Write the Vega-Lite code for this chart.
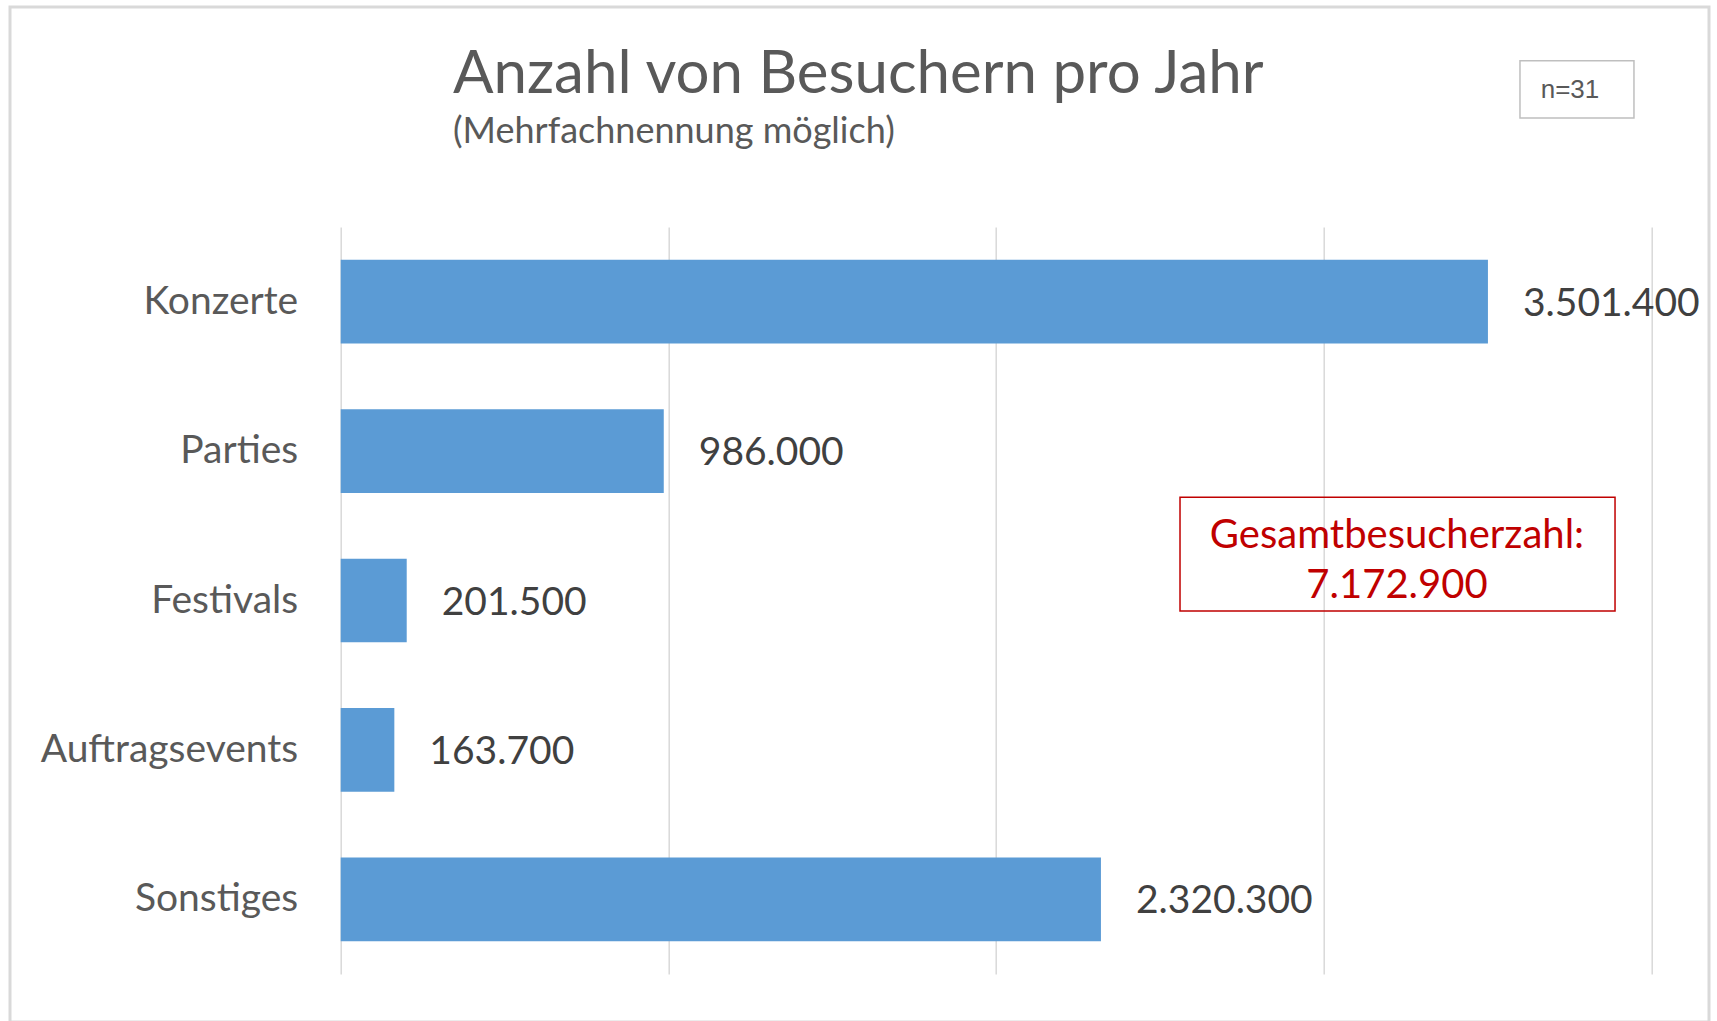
{
  "$schema": "https://vega.github.io/schema/vega-lite/v6.json",
  "width": 1310.6,
  "height": 747,
  "autosize": {"type": "none"},
  "padding": {"left": 340.7, "top": 227, "right": 65.7, "bottom": 47},
  "background": "white",
  "config": {
    "view": {"stroke": null},
    "locale": {"number": {"decimal": ",", "thousands": ".", "grouping": [3], "currency": ["", " €"]}}
  },
  "resolve": {"scale": {"y": "independent"}, "axis": {"y": "independent"}},
  "layer": [
    {
      "layer": [
        {
          "data": {"values": [{}]},
          "mark": {"type": "rect", "fillOpacity": 0, "stroke": "#D9D9D9", "strokeWidth": 3},
          "encoding": {
            "x": {"datum": -1009300, "type": "quantitative", "scale": {"domain": [0, 4000000], "nice": false, "zero": true}},
            "x2": {"datum": 4176100},
            "y": {"datum": -1.4726, "type": "quantitative", "scale": {"domain": [0, 5], "reverse": true, "nice": false, "zero": false}, "axis": null},
            "y2": {"datum": 5.3213}
          }
        },
        {
          "data": {"values": [{}]},
          "mark": {"type": "rect", "fillOpacity": 0, "stroke": "#BFBFBF", "strokeWidth": 1.5},
          "encoding": {
            "x": {"datum": 3599200, "type": "quantitative"},
            "x2": {"datum": 3947100},
            "y": {"datum": -1.1131, "type": "quantitative"},
            "y2": {"datum": -0.7296}
          }
        },
        {
          "data": {"values": [{}]},
          "mark": {"type": "text", "text": "n=31", "font": "Liberation Sans", "fontSize": 26, "color": "#595959", "align": "center", "baseline": "alphabetic"},
          "encoding": {
            "x": {"datum": 3751900, "type": "quantitative"},
            "y": {"datum": -0.8614, "type": "quantitative"}
          }
        },
        {
          "data": {"values": [{}]},
          "mark": {"type": "text", "text": "Anzahl von Besuchern pro Jahr", "font": "Lato", "fontWeight": 400, "fontSize": 60, "color": "#595959", "align": "left", "baseline": "alphabetic"},
          "encoding": {
            "x": {"datum": 342700, "type": "quantitative"},
            "y": {"datum": -0.8949, "type": "quantitative"}
          }
        },
        {
          "data": {"values": [{}]},
          "mark": {"type": "text", "text": "(Mehrfachnennung möglich)", "font": "Lato", "fontSize": 36, "color": "#595959", "align": "left", "baseline": "alphabetic"},
          "encoding": {
            "x": {"datum": 342700, "type": "quantitative"},
            "y": {"datum": -0.5602, "type": "quantitative"}
          }
        },
        {
          "data": {"values": [{}]},
          "mark": {"type": "rect", "fillOpacity": 0, "stroke": "#C00000", "strokeWidth": 1.5},
          "encoding": {
            "x": {"datum": 2561600, "type": "quantitative"},
            "x2": {"datum": 3889300},
            "y": {"datum": 1.8092, "type": "quantitative"},
            "y2": {"datum": 2.5703}
          }
        },
        {
          "data": {"values": [{}]},
          "mark": {"type": "text", "text": "Gesamtbesucherzahl:", "font": "Lato", "fontSize": 40, "color": "#C00000", "align": "center", "baseline": "alphabetic"},
          "encoding": {
            "x": {"datum": 3223800, "type": "quantitative"},
            "y": {"datum": 2.1506, "type": "quantitative"}
          }
        },
        {
          "data": {"values": [{}]},
          "mark": {"type": "text", "text": "7.172.900", "font": "Lato", "fontSize": 40, "color": "#C00000", "align": "center", "baseline": "alphabetic"},
          "encoding": {
            "x": {"datum": 3223800, "type": "quantitative"},
            "y": {"datum": 2.4853, "type": "quantitative"}
          }
        }
      ]
    },
    {
      "data": {
        "values": [
          {"Kategorie": "Konzerte", "Besucher": 3501400},
          {"Kategorie": "Parties", "Besucher": 986000},
          {"Kategorie": "Festivals", "Besucher": 201500},
          {"Kategorie": "Auftragsevents", "Besucher": 163700},
          {"Kategorie": "Sonstiges", "Besucher": 2320300}
        ]
      },
      "encoding": {
        "y": {
          "field": "Kategorie",
          "type": "nominal",
          "sort": null,
          "scale": {"paddingInner": 0.44, "paddingOuter": 0.22},
          "axis": {
            "orient": "left",
            "title": null,
            "domain": false,
            "ticks": false,
            "tickSize": 0,
            "labelPadding": 43,
            "labelFont": "Lato",
            "labelFontSize": 39,
            "labelColor": "#595959",
            "labelLimit": 400
          }
        },
        "x": {
          "field": "Besucher",
          "type": "quantitative",
          "scale": {"domain": [0, 4000000], "nice": false, "zero": true},
          "axis": {
            "title": null,
            "values": [0, 1000000, 2000000, 3000000, 4000000],
            "labels": false,
            "ticks": false,
            "domain": false,
            "grid": true,
            "gridColor": "#D9D9D9",
            "gridWidth": 1.5
          }
        }
      },
      "layer": [
        {"mark": {"type": "bar", "color": "#5B9BD5"}},
        {
          "mark": {"type": "text", "align": "left", "baseline": "middle", "dx": 35, "dy": 2, "font": "Lato", "fontSize": 39, "color": "#404040"},
          "encoding": {"text": {"field": "Besucher", "type": "quantitative", "format": ",d"}}
        }
      ]
    }
  ]
}
